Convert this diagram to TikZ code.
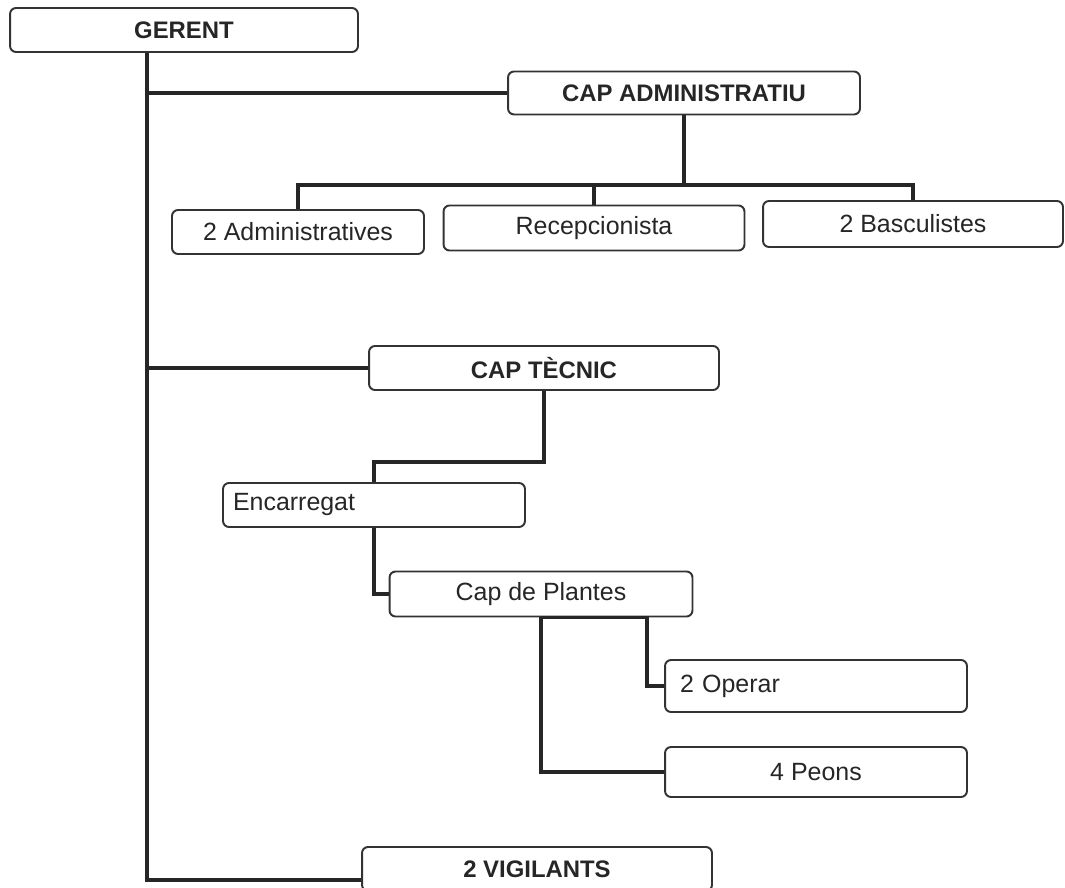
\documentclass[tikz,border=0pt]{standalone}
\usepackage{fontspec}
\setmainfont{Liberation Sans}
\usepackage{tikz}

\tikzset{
  orgbox/.style={draw=black!80, line width=1.1pt, rounded corners=1.2mm,
    fill=white, text=black!85, inner sep=0pt,
    font=\fontsize{14.2}{17}\selectfont},
  headbox/.style={orgbox, font=\fontsize{13.6}{17}\selectfont\bfseries},
  link/.style={draw=black!85, line width=2.2pt}
}

\begin{document}
\begin{tikzpicture}[x=0.02cm, y=-0.02cm]
        % Page
        \useasboundingbox (0,0) rectangle (1065,888);
        \clip (0,0) rectangle (1065,888);
        \fill[white] (0,0) rectangle (1065,888);

        % Heads
        \node[headbox, minimum width=6.96cm, minimum height=0.88cm] (gerent) at (184,30) {GERENT};
        \node[headbox, minimum width=7.04cm, minimum height=0.86cm] (capadm) at (684,93) {CAP ADMINISTRATIU};
        \node[headbox, minimum width=7.0cm, minimum height=0.88cm] (captec) at (544,368) {CAP TÈCNIC};
        \node[headbox, minimum width=7.0cm, minimum height=0.88cm] (vigil) at (537,869) {2 VIGILANTS};

        % Administration
        \node[orgbox, minimum width=5.04cm, minimum height=0.88cm] (admins) at (298,232) {2 Administratives};
        \node[orgbox, minimum width=6.02cm, minimum height=0.9cm] (recep) at (594,228) {Recepcionista};
        \node[orgbox, minimum width=6.0cm, minimum height=0.92cm] (bascul) at (913,224) {2 Basculistes};

        % Technical
        \node[orgbox, inner xsep=0.2cm, text width=5.64cm, align=left, minimum height=0.88cm] (encarr) at (374,505) {Encarregat};
        \node[orgbox, minimum width=6.06cm, minimum height=0.9cm] (capplant) at (541,594) {Cap de Plantes};
        \node[orgbox, inner xsep=0.3cm, text width=5.44cm, align=left, minimum height=1.04cm] (operar) at (816,686) {2 Operar};
        \node[orgbox, minimum width=6.04cm, minimum height=1.0cm] (peons) at (816,772) {4 Peons};

        % Trunk from the manager
        \coordinate (trunk) at (147,0);
        \draw[link] (gerent.south -| trunk) |- ([yshift=-0.22cm]vigil.west);
        \draw[link] (trunk |- capadm.west) -- (capadm.west);
        \draw[link] (trunk |- captec.west) -- (captec.west);

        % Administration branch
        \coordinate (admbar) at (0,185);
        \draw[link] (capadm.south) -- (capadm.south |- admbar);
        \draw[link] (admins.north) |- (admbar -| bascul.north) -- (bascul.north);
        \draw[link] (recep.north) -- (recep.north |- admbar);

        % Technical branch
        \draw[link] (captec.south) -- ++(0,71) -| (encarr.north);
        \draw[link] (encarr.south) |- (capplant.west);
        \coordinate (plantdrop) at (647,0);
        \draw[link] (capplant.south) |- (peons.west);
        \draw[link] (capplant.south) -- (capplant.south -| plantdrop) |- (operar.west);
    \end{tikzpicture}
\end{document}
